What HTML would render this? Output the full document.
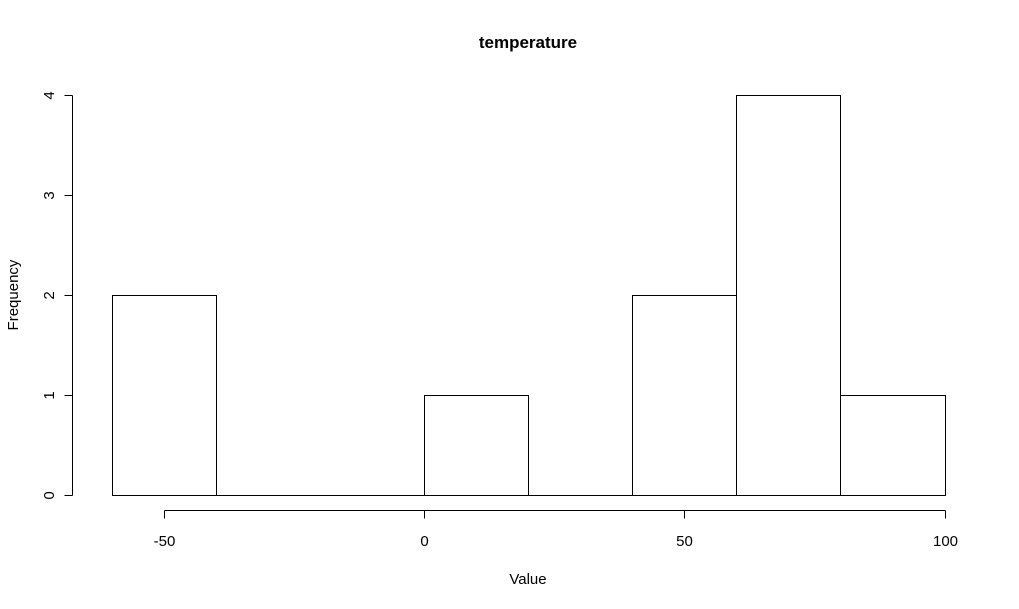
<!DOCTYPE html>
<html><head><meta charset="utf-8"><style>
html,body{margin:0;padding:0;background:#fff;}
svg{display:block;font-family:"Liberation Sans",Arial,sans-serif;}
</style></head><body>
<svg id="chart" width="1019" height="609" viewBox="0 0 1019 609">
<text x="528" y="48" text-anchor="middle" font-size="17" font-weight="bold">temperature</text>
<text x="528" y="584" text-anchor="middle" font-size="15">Value</text>
<text transform="translate(18,295) rotate(-90)" text-anchor="middle" font-size="15">Frequency</text>
<g id="bars"></g>
<g id="xaxis"></g>
<g id="yaxis"></g>
</svg>
<script>
const binEdges = [-60,-40,-20,0,20,40,60,80,100];
const counts = [2,0,0,1,0,2,4,1];
const xTicks = [-50,0,50,100];
const yTicks = [0,1,2,3,4];

const NS="http://www.w3.org/2000/svg";
function xs(v){return Math.round(424 + v*5.205)+0.5;}
function ys(v){return Math.round(495 - v*100)+0.5;}
function mk(tag,attrs,parent){const e=document.createElementNS(NS,tag);for(const k in attrs)e.setAttribute(k,attrs[k]);parent.appendChild(e);return e;}
const bars=document.getElementById('bars');
counts.forEach((c,i)=>{
  const x0=xs(binEdges[i]),x1=xs(binEdges[i+1]),y0=ys(0),y1=ys(c);
  const d='M'+x0+','+y0+' L'+x0+','+y1+' L'+x1+','+y1+' L'+x1+','+y0+' Z';
  const r=mk('path',{d:d,fill:'#fff',stroke:'#000','stroke-width':1},bars);
  
  
});
const xa=document.getElementById('xaxis');
mk('line',{x1:xs(xTicks[0]),x2:xs(xTicks[xTicks.length-1]),y1:510.5,y2:510.5,stroke:'#000'},xa);
xTicks.forEach(t=>{
  mk('line',{x1:xs(t),x2:xs(t),y1:510.5,y2:518.5,stroke:'#000'},xa);
  const tx=mk('text',{x:xs(t),y:546,'text-anchor':'middle','font-size':15},xa);
  tx.textContent=t;
  
  
});
const ya=document.getElementById('yaxis');
mk('line',{x1:72.5,x2:72.5,y1:ys(yTicks[0]),y2:ys(yTicks[yTicks.length-1]),stroke:'#000'},ya);
yTicks.forEach(t=>{
  mk('line',{x1:64.5,x2:72.5,y1:ys(t),y2:ys(t),stroke:'#000'},ya);
  const tx=mk('text',{transform:'translate(54,'+ys(t)+') rotate(-90)','text-anchor':'middle','font-size':15},ya);
  tx.textContent=t;
  
  
});
</script>
</body></html>
